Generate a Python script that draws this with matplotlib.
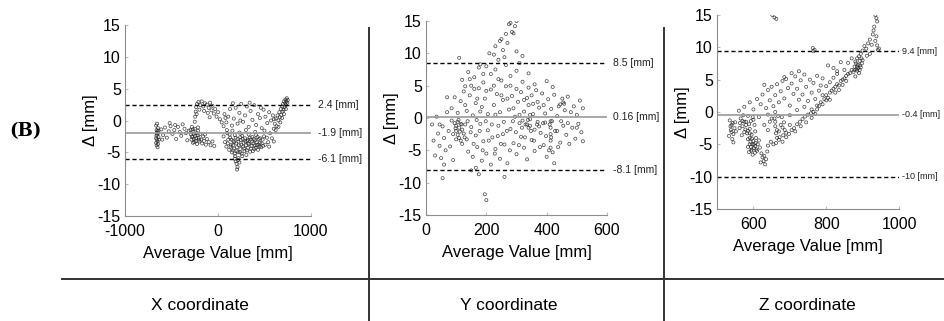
import numpy as np
import matplotlib
matplotlib.use("Agg")
import matplotlib.pyplot as plt
import matplotlib.transforms as mtransforms

plt.rcParams['font.family'] = ['Liberation Sans', 'DejaVu Sans']
plt.rcParams['axes.unicode_minus'] = False

# ---- data: (average value [mm], difference [mm]) ----
x_points = [
    (-665, -0.8), (-660, -1.5), (-655, -2.2), (-665, -2.8), (-650, -3.3), (-660, -3.9), (-645, -1.2),
    (-655, -0.5), (-640, -2.6), (-665, -3.5), (-650, -4.2), (-645, -2.0), (-635, -3.0), (-660, -1.9),
    (-640, -1.6), (-655, -3.0), (-645, -3.7), (-662, -2.4), (-650, -1.7),
    (-610, -1.4), (-590, -2.3), (-570, -1.1), (-550, -2.7), (-530, -1.7), (-510, -0.9), (-490, -2.1),
    (-470, -1.5), (-450, -2.9), (-430, -1.0), (-410, -1.8), (-395, -2.4), (-380, -0.6), (-360, -1.3),
    (-345, -2.0), (-330, -3.1), (-315, -1.6), (-600, -3.0), (-520, -0.4), (-460, -0.7),
    (-295, -1.5), (-290, -2.2), (-285, -3.0), (-280, -1.0), (-275, -2.6), (-270, -3.5), (-265, -1.8),
    (-260, -2.9), (-250, -1.3), (-245, -2.4), (-240, -3.2), (-230, -2.0), (-225, -3.7), (-215, -1.6),
    (-210, -2.7), (-200, -3.3), (-190, -2.1), (-180, -3.0), (-170, -3.6), (-160, -2.5), (-150, -3.2),
    (-140, -2.2), (-130, -3.8), (-120, -2.9), (-100, -3.4), (-80, -3.9), (-60, -3.3), (-40, -4.0),
    (-280, -2.5), (-260, -2.1), (-235, -2.8), (-220, -2.3), (-205, -3.0), (-255, -3.4), (-270, -1.4),
    (-215, -1.1),
    (-250, -0.2), (-245, 0.6), (-240, 1.4), (-235, 2.1), (-225, 2.6), (-210, 2.9), (-190, 2.4),
    (-175, 3.0), (-160, 2.2), (-140, 2.7), (-120, 2.5), (-100, 2.0), (-85, 2.8), (-70, 1.6),
    (-60, 2.3), (-45, 1.1), (-30, 1.8), (-15, 0.6), (0, 1.3), (20, 0.2), (-200, 1.7), (-150, 1.5),
    (-110, 1.2), (-90, 0.5), (-230, 1.0), (40, -0.3), (60, -0.9), (80, 0.4), (95, -1.5),
    (60, -2.5), (75, -3.4), (90, -4.1), (100, -2.0), (110, -3.0), (120, -4.6), (130, -2.7),
    (140, -3.8), (150, -5.0), (155, -1.6), (165, -3.2), (170, -4.4), (180, -2.3), (185, -5.6),
    (195, -3.6), (200, -4.8), (210, -2.9), (215, -6.2), (225, -3.9), (230, -1.9), (240, -4.5),
    (245, -3.1), (255, -5.2), (260, -2.4), (270, -4.1), (275, -3.5), (285, -4.8), (290, -2.8),
    (300, -3.9), (305, -5.4), (315, -3.2), (320, -4.3), (330, -2.2), (335, -3.7), (345, -4.9),
    (350, -3.0), (360, -4.0), (370, -2.6), (380, -3.6), (390, -4.5), (400, -3.1), (410, -2.3),
    (420, -3.9), (430, -4.6), (440, -2.9), (450, -3.5), (465, -4.2), (480, -3.0), (495, -2.5),
    (510, -3.8), (525, -2.7), (540, -3.4),
    (105, -3.6), (125, -2.2), (135, -4.1), (145, -3.0), (160, -4.7), (175, -3.4), (190, -2.7),
    (205, -4.2), (220, -3.3), (235, -5.0), (250, -3.8), (265, -2.9), (280, -4.4), (295, -3.3),
    (310, -4.7), (325, -3.6), (340, -2.7), (355, -4.4), (365, -3.3), (375, -4.8), (385, -2.9),
    (395, -3.9), (405, -4.3), (415, -3.4), (425, -2.6), (435, -3.8), (445, -4.1), (455, -2.8),
    (470, -3.6), (485, -4.0), (160, -3.9), (240, -2.6), (320, -3.0), (180, -5.2), (260, -5.6),
    (230, -6.6), (215, -5.0),
    (200, -6.8), (210, -7.3), (190, -6.4), (220, -5.9), (205, -7.7), (180, -6.0),
    (70, 1.0), (90, -0.3), (110, 0.6), (130, 1.8), (150, -0.8), (170, 0.3), (190, 2.0), (210, -0.5),
    (230, 1.2), (250, 2.6), (270, -0.2), (290, 0.8), (310, 2.2), (330, -1.0), (350, 1.5), (370, 0.1),
    (390, 2.4), (410, -0.7), (430, 1.0), (450, 0.4), (470, -1.2), (490, 1.7), (510, 0.6), (530, -0.4),
    (550, 1.3), (570, 0.0), (590, 0.8), (300, -1.5), (400, -1.8), (500, -1.6), (560, -2.0),
    (600, -1.3), (160, 2.7), (340, 2.8), (240, 0.0), (460, 2.0),
    (610, -0.5), (620, 0.3), (630, -0.9), (640, 0.8), (650, 0.0), (660, 1.3), (665, 0.5), (675, 1.8),
    (680, 0.9), (690, 2.2), (695, 1.4), (700, 2.6), (705, 1.7), (710, 3.0), (715, 2.1), (720, 2.7),
    (725, 3.3), (730, 2.4), (735, 3.0), (740, 3.5), (745, 2.8), (750, 3.2), (690, 0.4), (670, -0.3),
    (650, -1.0), (710, 1.0), (730, 1.8), (620, -1.5), (600, 0.2), (550, -4.1), (600, -3.3), (580, -2.8),
]

y_points = [
    (210, 10.0), (230, 11.1), (240, 9.0), (250, 12.2), (255, 10.5), (265, 13.0), (270, 11.6),
    (280, 14.7), (285, 13.3), (290, 13.1), (295, 14.2), (300, 15.0), (275, 14.5), (245, 11.9),
    (300, 10.3), (320, 9.6), (260, 9.4), (225, 9.8), (110, 9.3),
    (120, 5.9), (140, 7.1), (160, 6.3), (175, 7.8), (190, 5.5), (200, 8.0), (215, 6.8), (230, 7.5),
    (250, 5.8), (265, 8.2), (280, 6.5), (300, 7.3), (320, 5.6), (340, 6.9), (360, 5.2), (180, 8.3),
    (150, 5.0), (310, 8.5), (400, 5.7), (130, 4.9), (240, 6.0), (190, 6.8), (145, 6.0), (225, 5.0),
    (85, 1.5), (95, 3.2), (105, 0.8), (115, 2.6), (125, 4.1), (135, 1.1), (145, 3.5), (155, 0.4),
    (165, 2.3), (175, 4.6), (185, 1.7), (195, 3.0), (205, 0.6), (215, 4.4), (225, 2.0), (235, 3.7),
    (245, 0.9), (255, 2.8), (265, 4.9), (275, 1.3), (285, 3.4), (295, 0.2), (305, 2.5), (315, 4.0),
    (325, 1.0), (335, 3.1), (345, 0.5), (355, 2.2), (365, 4.3), (375, 1.6), (385, 3.8), (395, 0.7),
    (405, 2.9), (415, 1.4), (425, 3.6), (435, 0.3), (445, 2.1), (455, 2.4), (460, 1.2), (470, 3.3),
    (480, 0.9), (490, 1.8), (500, 0.5), (510, 2.7), (520, 1.5), (340, 4.7), (200, 4.2), (280, 5.0),
    (420, 4.8), (160, 4.5), (452, 3.0), (458, 2.2), (180, 1.0), (230, 0.5), (290, 1.5), (350, 3.5),
    (390, 2.0), (440, 1.8), (130, 2.0), (170, 3.0), (250, 3.5), (310, 0.5), (370, 2.5), (340, 2.0),
    (325, 2.8), (355, 0.6), (300, 4.5), (270, 3.0),
    (95, -0.8), (100, -1.2), (105, -0.6), (100, -2.0), (110, -1.5), (115, -0.9), (105, -2.6),
    (120, -1.8), (110, -3.1), (125, -2.4), (98, -1.6), (115, -3.5), (130, -1.0), (120, -4.0),
    (108, -0.3), (112, -2.1), (90, -2.5), (100, -3.3), (118, -1.0), (128, -3.0),
    (20, -1.0), (25, -3.5), (30, -5.8), (35, 0.2), (40, -2.4), (45, -4.3), (50, -6.2), (55, -1.3),
    (60, -3.1), (65, -5.0), (70, 0.9), (75, -2.0), (80, -4.4), (85, -0.4), (90, -6.5), (60, -7.2),
    (70, 3.2), (45, -1.0),
    (135, -3.3), (140, -5.2), (150, -1.4), (155, -6.0), (165, -2.7), (170, -4.5), (180, -0.9),
    (185, -6.6), (190, -3.6), (200, -5.5), (205, -1.9), (215, -7.2), (220, -3.0), (230, -4.8),
    (240, -1.2), (245, -6.3), (255, -2.5), (260, -4.1), (270, -7.0), (280, -1.7), (290, -3.9),
    (300, -5.6), (310, -0.8), (315, -2.9), (325, -4.6), (335, -6.4), (340, -1.5), (350, -3.4),
    (360, -5.1), (370, -0.6), (380, -2.3), (390, -4.2), (400, -6.0), (410, -1.0), (415, -3.0),
    (420, -5.3), (425, -7.0), (435, -2.0), (445, -3.8), (455, -1.2), (465, -2.6), (475, -4.0),
    (485, -1.5), (495, -3.2), (505, -0.9), (515, -2.2), (520, -3.6), (320, -0.4), (330, -1.0),
    (345, -0.2), (360, -1.8), (375, -1.3), (395, -0.7), (175, -8.7), (165, -7.7), (150, -8.1),
    (260, -9.1), (55, -9.3), (195, -11.8), (200, -12.7),
    (138, -0.5), (148, -2.2), (158, -4.0), (168, -0.3), (178, -2.0), (188, -5.0), (198, -0.5),
    (208, -3.5), (218, -1.0), (228, -5.5), (238, -2.8), (248, -4.0), (258, -0.6), (268, -2.0),
    (278, -5.0), (288, -0.5), (298, -2.2), (308, -4.2), (318, -1.5), (328, -3.0), (338, -0.3),
    (348, -2.0), (358, -3.5), (368, -1.0), (378, -4.5), (388, -0.8), (398, -2.8), (408, -5.0),
    (418, -0.5), (428, -2.0), (438, -4.5), (448, -0.5), (470, -0.8), (500, -1.5), (335, -1.0),
    (345, -1.2),
    (413, -0.5), (413, -1.5), (413, -2.5), (413, -3.5), (413, -4.6),
]

z_points = [
    (535, -1.3), (540, -2.0), (538, -2.8), (545, -3.4), (542, -4.2), (548, -2.5), (533, -3.7),
    (550, -1.6), (545, -4.7), (537, -2.2), (552, -3.0), (540, -3.1), (543, -1.7),
    (565, -1.0), (570, -2.2), (575, -3.1), (580, -1.5), (585, -0.6), (590, -2.6), (595, -3.5),
    (600, -1.2), (603, -2.0), (568, -3.6), (578, -2.7), (588, -1.9), (598, -0.8), (572, -0.5),
    (583, -3.3), (593, -1.4), (562, -2.5), (605, -3.0), (580, -2.0), (575, -1.5), (585, -2.9),
    (590, -3.3), (570, -1.4), (563, -1.7),
    (585, -4.2), (590, -5.0), (595, -5.8), (600, -4.5), (605, -5.3), (610, -6.0), (588, -6.2),
    (598, -6.6), (607, -4.0), (592, -4.6), (602, -5.6), (612, -5.0), (596, -4.1), (604, -6.3),
    (585, -5.4), (615, -4.4), (597, -5.0), (593, -5.4), (601, -5.0), (606, -4.8), (590, -4.0),
    (608, -5.8), (594, -6.0),
    (618, -5.5), (622, -6.4), (625, -7.0), (628, -7.6), (632, -8.1), (630, -6.8), (635, -7.3),
    (620, -7.8), (638, -6.1),
    (658, -1.0), (660, -2.2), (662, -3.3), (668, -0.6), (672, -3.9), (678, -0.8), (684, -1.6),
    (686, -2.8), (682, -3.6), (665, -4.0), (675, -2.0), (690, -3.2), (660, -1.5), (670, -3.0),
    (680, -2.4), (665, -2.8),
    (640, -5.2), (648, -4.6), (655, -5.0), (662, -4.8), (670, -4.3), (680, -4.6), (690, -3.9),
    (698, -3.4), (705, -2.8), (712, -2.5), (720, -1.9), (728, -1.5), (735, -1.1), (742, -0.7),
    (750, -0.4), (758, -0.2), (765, 0.0), (770, -0.3), (775, 0.4), (700, -2.0), (715, -3.0),
    (730, -2.2), (745, -1.6), (760, -0.9),
    (780, 0.9), (785, 1.5), (790, 1.2), (795, 2.0), (800, 2.6), (805, 2.2), (810, 3.0), (815, 3.3),
    (820, 3.6), (825, 3.9), (830, 4.3), (835, 4.1), (840, 4.8), (845, 5.0), (850, 5.2), (855, 5.6),
    (860, 5.9), (865, 6.0), (870, 6.5), (790, 2.6), (810, 1.9), (835, 3.4), (855, 4.8), (845, 4.2),
    (825, 3.0), (800, 1.8), (775, 1.0), (760, 0.4),
    (875, 6.2), (878, 7.0), (880, 7.8), (883, 6.6), (885, 8.3), (887, 7.3), (890, 6.0), (892, 7.9),
    (895, 6.9), (898, 7.5), (880, 5.5), (890, 8.6), (885, 6.4), (900, 8.0), (885, 7.0), (882, 7.5),
    (888, 6.8), (893, 7.2), (878, 6.5), (892, 6.5), (897, 8.3),
    (900, 9.5), (905, 10.2), (910, 9.8), (915, 10.6), (920, 11.2), (925, 10.4), (928, 12.0),
    (930, 12.6), (935, 11.0), (940, 10.3), (942, 9.6), (945, 9.8), (938, 11.7), (935, 15.0),
    (938, 14.5), (940, 14.0), (932, 13.2), (895, 9.0), (912, 8.7), (920, 9.0),
    (652, 15.0), (658, 14.6), (663, 14.4), (763, 9.9), (765, 9.4), (768, 9.6),
    (560, 0.2), (575, 0.8), (590, 1.5), (600, 0.4), (610, 2.0), (620, 1.2), (625, 2.7), (635, 0.6),
    (640, 3.4), (645, 1.8), (650, 3.9), (655, 0.9), (660, 2.6), (665, 4.3), (670, 1.5), (675, 3.2),
    (680, 4.8), (685, 2.1), (690, 5.1), (695, 3.7), (700, 1.0), (705, 4.4), (710, 2.8), (715, 5.5),
    (720, 3.6), (725, 1.9), (730, 4.9), (735, 2.7), (740, 5.8), (745, 3.9), (750, 1.7), (755, 5.0),
    (760, 3.0), (765, 4.5), (770, 2.0), (775, 5.6), (780, 3.3), (785, 4.1), (790, 5.2), (800, 4.0),
    (810, 4.6), (820, 5.3), (830, 5.9), (640, -0.4), (660, 0.0), (700, -0.5), (720, 0.3), (740, 0.8),
    (630, 4.2), (685, 5.4), (705, 6.0), (725, 6.3), (650, -1.0), (615, -0.8), (630, -2.0),
    (640, -2.8), (645, -1.5),
    (805, 7.2), (820, 6.8), (840, 7.7), (850, 6.5), (860, 7.6), (870, 8.3), (830, 6.3),
]

# limits of agreement: upper, mean, lower
x_lines = [2.4, -1.9, -6.1]
y_lines = [8.5, 0.16, -8.1]
z_lines = [9.4, -0.4, -10]
x_line_labels = ["2.4 [mm]", "-1.9 [mm]", "-6.1 [mm]"]
y_line_labels = ["8.5 [mm]", "0.16 [mm]", "-8.1 [mm]"]
z_line_labels = ["9.4 [mm]", "-0.4 [mm]", "-10 [mm]"]

titles = ["X coordinate", "Y coordinate", "Z coordinate"]

# ---- figure ----
W, H = 944, 321
fig = plt.figure(figsize=(W / 100, H / 100), dpi=100)


def px_axes(left, right, top, bottom):
    return fig.add_axes([left / W, (H - bottom) / H, (right - left) / W, (bottom - top) / H])


# axes, points, lines, labels, xlim, xticks, label offset, label size
panels = [
    (px_axes(125, 311, 25, 216), x_points, x_lines, x_line_labels, (-1000, 1000), [-1000, 0, 1000], 1.035, 7.5),
    (px_axes(426, 607, 21, 215), y_points, y_lines, y_line_labels, (0, 600), [0, 200, 400, 600], 1.035, 7.5),
    (px_axes(717, 899, 15, 209), z_points, z_lines, z_line_labels, (500, 1000), [600, 800, 1000], 1.015, 6.5),
]

for ax, pts, lines, labels, xlim, xticks, lab_x, lab_fs in panels:
    avg = np.array([p[0] for p in pts])
    diff = np.array([p[1] for p in pts])
    ax.scatter(avg, diff, s=5, facecolors='none', edgecolors='#222222', linewidths=0.5, alpha=0.85)
    ax.axhline(lines[1], color='#999999', linewidth=1.2)
    ax.axhline(lines[0], color='black', linestyle=(0, (3, 2)), linewidth=1.0)
    ax.axhline(lines[2], color='black', linestyle=(0, (3, 2)), linewidth=1.0)
    trans = mtransforms.blended_transform_factory(ax.transAxes, ax.transData)
    for val, lab in zip(lines, labels):
        ax.text(lab_x, val, lab, transform=trans, ha='left', va='center', fontsize=lab_fs,
                color='#222222', clip_on=False)
    ax.set_xlim(*xlim)
    ax.set_ylim(-15, 15)
    ax.set_xticks(xticks)
    ax.set_yticks([-15, -10, -5, 0, 5, 10, 15])
    for side in ['top', 'right']:
        ax.spines[side].set_visible(False)
    for side in ['left', 'bottom']:
        ax.spines[side].set_color('#8c8c8c')
        ax.spines[side].set_linewidth(0.8)
    ax.tick_params(direction='in', length=2, color='#bbbbbb', labelsize=11.5)
    ax.tick_params(axis='x', pad=6)
    ax.tick_params(axis='y', pad=3)
    ax.set_xlabel("Average Value [mm]", fontsize=12, labelpad=5)
    ax.set_ylabel("Δ [mm]", fontsize=12, labelpad=0)

# frame lines of the table layout
fig.add_artist(plt.Line2D([62 / W, 1], [1 - 279 / H] * 2, color='#333333', linewidth=1.4))
for xp in [369, 664]:
    fig.add_artist(plt.Line2D([xp / W] * 2, [0, 1 - 28 / H], color='#333333', linewidth=1.4))

for xc, t in zip([200, 509, 807], titles):
    fig.text(xc / W, 1 - 305 / H, t, ha='center', va='center', fontsize=12.5)

fig.text(25 / W, 1 - 131 / H, "(B)", ha='center', va='center', fontsize=13,
         fontweight='bold', family=['DejaVu Serif'])

fig.savefig("out.png", dpi=100)
